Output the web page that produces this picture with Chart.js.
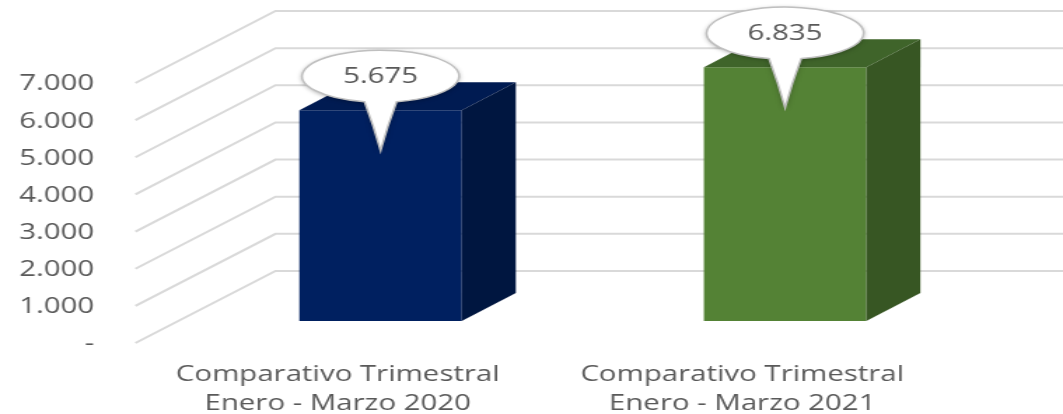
<!DOCTYPE html>
<html>
<head>
<meta charset="utf-8">
<script src="https://cdn.jsdelivr.net/npm/chart.js@4/dist/chart.umd.min.js"></script>
<style>
  html, body { margin: 0; padding: 0; background: #fff; overflow: hidden; }
  /* the original picture is stretched sideways, so the canvas is too */
  #chart { display: block; transform: scaleX(1.4005); transform-origin: 0 0; }
</style>
</head>
<body>
<canvas id="chart" width="759" height="414"></canvas>
<script>
(() => {
  'use strict';

  const categories = [
    ['Comparativo Trimestral', 'Enero - Marzo 2020'],
    ['Comparativo Trimestral', 'Enero - Marzo 2021']
  ];
  const values = [5675, 6835];
  const yTicks = [0, 1000, 2000, 3000, 4000, 5000, 6000, 7000];

  const frontColors = ['#002060', '#548235'];
  const topColors = ['#001b52', '#3f642a'];
  const sideColors = ['#001640', '#375623'];
  const textColor = '#595959';
  const fontFamily = '"Open Sans", sans-serif';

  // 3D offsets, relative to the plane of the bars' front faces
  const FLOOR_FRONT = { dx: -30.6, dy: 22 };
  const BACK_WALL = { dx: 69.4, dy: -50 };
  const BAR_DEPTH = { dx: 38.6, dy: -28 };

  /**
   * Formats a number with a dot as thousands separator
   *
   * @param {Number} value value
   * @returns {String} formatted value
   */
  const formatNumber = (value) => {
    return String(value).replace(/\B(?=(\d{3})+(?!\d))/g, '.');
  };

  /**
   * Fills a polygon
   */
  const fillPolygon = (ctx, points, color) => {
    ctx.beginPath();
    ctx.moveTo(points[0][0], points[0][1]);
    points.slice(1).forEach(p => ctx.lineTo(p[0], p[1]));
    ctx.closePath();
    ctx.fillStyle = color;
    ctx.fill();
  };

  /**
   * Draws a speech bubble with the value inside
   */
  const drawBubble = (ctx, cx, cy, tipX, tipY, text) => {
    const rx = 56;
    const ry = 26;
    const halfBase = 11.5;
    const a = Math.asin(halfBase / rx);
    const baseY = cy + ry * Math.cos(a);
    const midY = (baseY + tipY) / 2;

    ctx.save();
    ctx.beginPath();
    ctx.ellipse(cx, cy, rx, ry, 0, Math.PI / 2 + a, Math.PI * 2.5 - a);
    ctx.quadraticCurveTo(cx + halfBase * 0.42, midY, tipX, tipY);
    ctx.quadraticCurveTo(cx - halfBase * 0.42, midY, cx - halfBase, baseY);
    ctx.closePath();
    ctx.shadowColor = 'rgba(0, 0, 0, 0.35)';
    ctx.shadowBlur = 4;
    ctx.shadowOffsetY = 1;
    ctx.fillStyle = '#ffffff';
    ctx.fill();
    ctx.shadowColor = 'transparent';
    ctx.strokeStyle = '#bfbfbf';
    ctx.lineWidth = 1.5;
    ctx.stroke();

    ctx.fillStyle = textColor;
    ctx.font = `21px ${fontFamily}`;
    ctx.textAlign = 'center';
    ctx.textBaseline = 'middle';
    ctx.fillText(text, cx, cy + 1);
    ctx.restore();
  };

  /**
   * Plugin drawing the 3D walls, bar sides and value bubbles
   */
  const depthPlugin = {
    id: 'depth',

    beforeDatasetsDraw(chart) {
      const { ctx, chartArea } = chart;
      const y = chart.scales.y;
      ctx.save();
      ctx.strokeStyle = '#d9d9d9';
      ctx.lineWidth = 2;
      y.ticks.forEach(tick => {
        const py = y.getPixelForValue(tick.value);
        ctx.beginPath();
        ctx.moveTo(chartArea.left + FLOOR_FRONT.dx, py + FLOOR_FRONT.dy);
        ctx.lineTo(chartArea.left + BACK_WALL.dx, py + BACK_WALL.dy);
        ctx.lineTo(chart.width, py + BACK_WALL.dy);
        ctx.stroke();
      });
      ctx.restore();
    },

    afterDatasetsDraw(chart) {
      const ctx = chart.ctx;
      const meta = chart.getDatasetMeta(0);
      ctx.save();
      meta.data.forEach((bar, i) => {
        const left = bar.x - bar.width / 2;
        const right = bar.x + bar.width / 2;
        const top = bar.y;
        const base = bar.base;
        const { dx, dy } = BAR_DEPTH;

        fillPolygon(ctx, [[left, top], [left + dx, top + dy], [right + dx, top + dy], [right, top]], topColors[i]);
        fillPolygon(ctx, [[right, top], [right + dx, top + dy], [right + dx, base + dy], [right, base]], sideColors[i]);
      });
      meta.data.forEach((bar, i) => {
        drawBubble(ctx, bar.x, bar.y - 34, bar.x, bar.y + 40.5, formatNumber(values[i]));
      });
      ctx.restore();
    }
  };

  const ctx = document.getElementById('chart').getContext('2d');

  new Chart(ctx, {
    type: 'bar',
    data: {
      labels: categories,
      datasets: [{
        data: values,
        backgroundColor: frontColors,
        borderWidth: 0,
        barPercentage: 0.4015,
        categoryPercentage: 1
      }]
    },
    options: {
      responsive: false,
      animation: false,
      devicePixelRatio: 1,
      layout: {
        padding: { top: 61, right: 54, bottom: 0, left: 0 }
      },
      plugins: {
        legend: { display: false },
        tooltip: { enabled: false }
      },
      scales: {
        x: {
          grid: { display: false, drawTicks: false },
          border: { display: false },
          ticks: {
            color: textColor,
            padding: 40,
            labelOffset: FLOOR_FRONT.dx,
            font: { family: fontFamily, size: 21, lineHeight: 1.35 }
          },
          afterFit: (scale) => {
            scale.height = 93;
            scale.paddingLeft = 0;
            scale.paddingRight = 0;
          }
        },
        y: {
          min: yTicks[0],
          max: yTicks[yTicks.length - 1],
          grid: { display: false, drawTicks: false },
          border: { display: false },
          afterBuildTicks: (scale) => {
            scale.ticks = yTicks.map(v => ({ value: v }));
          },
          ticks: {
            color: textColor,
            padding: 60,
            labelOffset: FLOOR_FRONT.dy + 1.5,
            font: { family: fontFamily, size: 21 },
            callback: (value) => value === 0 ? '-' : formatNumber(value)
          },
          afterFit: (scale) => {
            scale.width = 127.3;
            scale.paddingTop = 0;
            scale.paddingBottom = 0;
          }
        }
      }
    },
    plugins: [depthPlugin]
  });
})();
</script>
</body>
</html>
